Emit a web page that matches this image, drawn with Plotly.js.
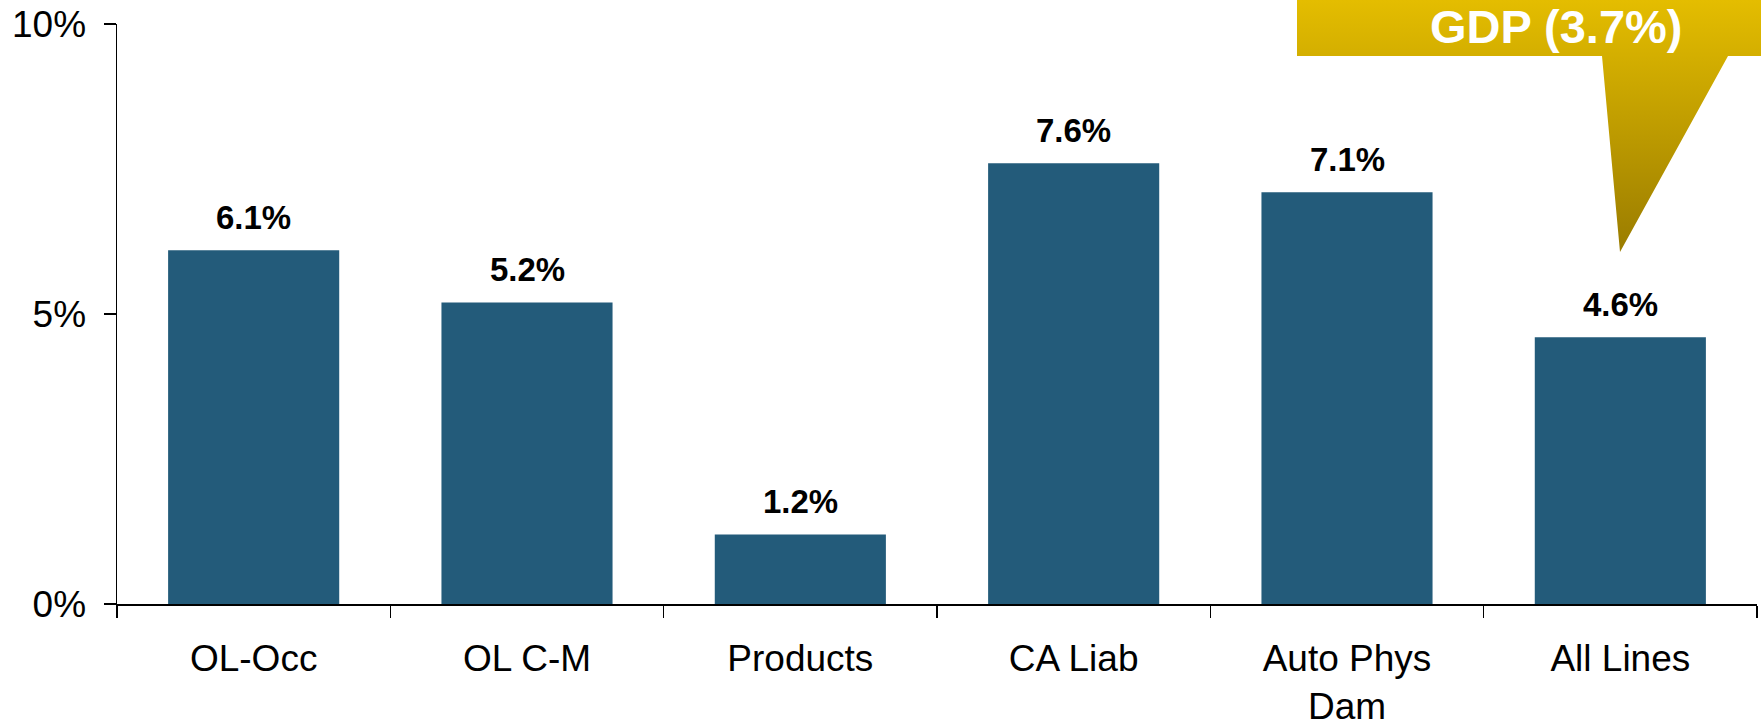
<!DOCTYPE html>
<html>
<head>
<meta charset="utf-8">
<script src="https://cdn.plot.ly/plotly-3.0.1.min.js"></script>
<style>
  html, body { margin: 0; padding: 0; background: #fff; }
  #chart { width: 1761px; height: 725px; }
</style>
</head>
<body>
<div id="chart"></div>
<script>
// Growth by line of business
const categories = ['OL-Occ', 'OL C-M', 'Products', 'CA Liab', 'Auto Phys<br>Dam', 'All Lines'];
const growth = [6.1, 5.2, 1.2, 7.6, 7.1, 4.6];
const yTickVals = [0, 5, 10];
const yTickText = ['0%', '5%', '10%'];
const gdpLabel = 'GDP (3.7%)';

const FONT = '"Liberation Sans", Arial, Helvetica, sans-serif';
const BAR_COLOR = '#235B7A';

const W = 1761, H = 725;
const M = { l: 117, r: 4, t: 24, b: 121 };
const plotW = W - M.l - M.r, plotH = H - M.t - M.b;

// pixel -> paper helpers for the callout decoration
const px = x => (x - M.l) / plotW;
const py = y => (H - M.b - y) / plotH;

// Gold callout: banner with a pointer, vertical gradient
const calloutSvg =
  "<svg xmlns='http://www.w3.org/2000/svg' width='464' height='252' viewBox='0 0 464 252' preserveAspectRatio='none'>" +
  "<defs><linearGradient id='g' x1='0' y1='0' x2='0' y2='1'>" +
  "<stop offset='0' stop-color='#E4BD00'/><stop offset='1' stop-color='#9A7C00'/>" +
  "</linearGradient></defs>" +
  "<polygon points='0,0 464,0 464,56 431,56 323,252 305,56 0,56' fill='url(#g)'/></svg>";
const calloutSrc = 'data:image/svg+xml;charset=utf-8,' + encodeURIComponent(calloutSvg);

const trace = {
  type: 'bar',
  x: categories,
  y: growth,
  marker: { color: BAR_COLOR, line: { width: 0 } },
  hoverinfo: 'skip',
  showlegend: false
};

const valueLabels = categories.map((c, i) => ({
  x: c,
  y: growth[i],
  xref: 'x',
  yref: 'y',
  text: '<b>' + growth[i].toFixed(1) + '%</b>',
  showarrow: false,
  yanchor: 'bottom',
  yshift: 12,
  font: { family: FONT, size: 33, color: '#000' }
}));

const layout = {
  width: W,
  height: H,
  margin: M,
  paper_bgcolor: '#fff',
  plot_bgcolor: '#fff',
  bargap: 0.374,
  font: { family: FONT, color: '#000' },
  xaxis: {
    type: 'category',
    showline: true,
    linecolor: '#000',
    linewidth: 1.5,
    ticks: 'outside',
    tickson: 'boundaries',
    ticklen: 12,
    tickwidth: 1.5,
    tickcolor: '#000',
    showgrid: false,
    zeroline: false,
    tickfont: { family: FONT, size: 37, color: '#000' },
    ticklabelstandoff: 21,
    fixedrange: true
  },
  yaxis: {
    range: [0, 10],
    tickvals: yTickVals,
    ticktext: yTickText,
    showline: true,
    linecolor: '#000',
    linewidth: 1.5,
    ticks: 'outside',
    ticklen: 12,
    tickwidth: 1.5,
    tickcolor: '#000',
    showgrid: false,
    zeroline: false,
    tickfont: { family: FONT, size: 37, color: '#000' },
    ticklabelstandoff: 10,
    fixedrange: true
  },
  images: [{
    source: calloutSrc,
    xref: 'paper', yref: 'paper',
    x: px(1297), y: py(0),
    sizex: px(1761) - px(1297),
    sizey: py(0) - py(252),
    xanchor: 'left', yanchor: 'top',
    sizing: 'stretch',
    layer: 'above'
  }],
  annotations: valueLabels.concat([{
    xref: 'paper', yref: 'paper',
    x: px(1556), y: py(27),
    text: '<b>' + gdpLabel + '</b>',
    showarrow: false,
    xanchor: 'center', yanchor: 'middle',
    font: { family: FONT, size: 47, color: '#fff' }
  }])
};

Plotly.newPlot('chart', [trace], layout, { displayModeBar: false, staticPlot: true });
</script>
</body>
</html>
